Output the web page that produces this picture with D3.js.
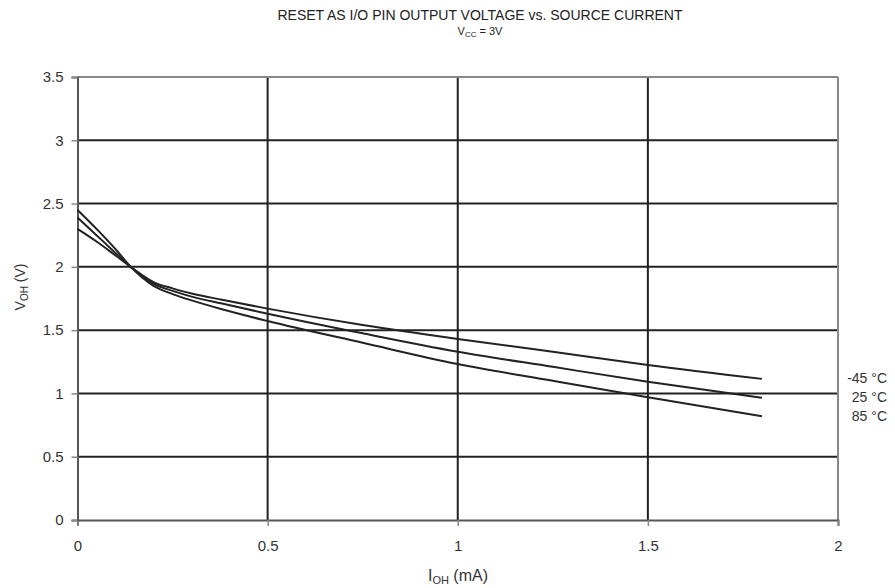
<!DOCTYPE html>
<html>
<head>
<meta charset="utf-8">
<script src="https://cdn.jsdelivr.net/npm/d3@7"></script>
<style>
  body { margin: 0; background: #fff; }
  svg { font-family: 'Liberation Sans', Arial, sans-serif; }
</style>
</head>
<body>
<div id="chart"></div>
<script>
// current (mA) sample points
const current = [0, 0.05, 0.1, 0.14, 0.2, 0.25, 0.3, 0.38, 0.5, 0.75, 1, 1.25, 1.5, 1.8];
const vMinus45 = [2.30, 2.20, 2.09, 2.00, 1.88, 1.83, 1.79, 1.74, 1.67, 1.54, 1.43, 1.33, 1.225, 1.115];
const v25 = [2.39, 2.25, 2.11, 2.00, 1.865, 1.81, 1.765, 1.71, 1.63, 1.475, 1.33, 1.21, 1.092, 0.965];
const v85 = [2.45, 2.30, 2.14, 2.00, 1.85, 1.785, 1.735, 1.665, 1.572, 1.40, 1.232, 1.10, 0.97, 0.82];
const seriesNames = ['-45 °C', '25 °C', '85 °C'];
const xTicks = [0, 0.5, 1, 1.5, 2];
const yTicks = [0, 0.5, 1, 1.5, 2, 2.5, 3, 3.5];

const series = [vMinus45, v25, v85];

const W = 895, H = 588;
const margin = { top: 77, right: 57, bottom: 68, left: 77.5 };
const width = W - margin.left - margin.right;
const height = H - margin.top - margin.bottom;

const svg = d3.select('#chart').append('svg')
    .attr('width', W)
    .attr('height', H);

const x = d3.scaleLinear().domain([0, 2]).range([0, width]);
const y = d3.scaleLinear().domain([0, 3.5]).range([height, 0]);

const g = svg.append('g')
    .attr('transform', 'translate(' + margin.left + ',' + margin.top + ')');

// title
svg.append('text')
    .attr('x', 480).attr('y', 20)
    .attr('text-anchor', 'middle')
    .style('font-size', '14px').style('fill', '#222')
    .text('RESET AS I/O PIN OUTPUT VOLTAGE vs. SOURCE CURRENT');
const sub = svg.append('text')
    .attr('x', 480).attr('y', 35)
    .attr('text-anchor', 'middle')
    .style('font-size', '11px').style('fill', '#222');
sub.append('tspan').text('V');
sub.append('tspan').attr('dy', 2).style('font-size', '8px').text('CC');
sub.append('tspan').attr('dy', -2).text(' = 3V');

// grid
g.append('g').selectAll('line')
    .data(yTicks.filter(d => d > 0 && d < 3.5))
    .enter().append('line')
    .attr('x1', 0).attr('x2', width)
    .attr('y1', d => y(d)).attr('y2', d => y(d))
    .attr('stroke', '#222').attr('stroke-width', 2);
g.append('g').selectAll('line')
    .data(xTicks.filter(d => d > 0 && d < 2))
    .enter().append('line')
    .attr('y1', 0).attr('y2', height)
    .attr('x1', d => x(d)).attr('x2', d => x(d))
    .attr('stroke', '#222').attr('stroke-width', 2);

// border top/right
g.append('line').attr('x1', 0).attr('x2', width).attr('y1', y(3.5)).attr('y2', y(3.5))
    .attr('stroke', '#888').attr('stroke-width', 2);
g.append('line').attr('x1', x(2)).attr('x2', x(2)).attr('y1', 0).attr('y2', height)
    .attr('stroke', '#888').attr('stroke-width', 2);

// axes
const xAxis = g.append('g')
    .attr('transform', 'translate(0,' + height + ')')
    .call(d3.axisBottom(x).tickValues(xTicks).tickFormat(d3.format('')).tickSize(6).tickPadding(14));
const yAxis = g.append('g')
    .call(d3.axisLeft(y).tickValues(yTicks).tickFormat(d3.format('')).tickSize(6).tickPadding(8));
[xAxis, yAxis].forEach(a => {
    a.select('.domain').attr('stroke', '#555').attr('stroke-width', 2);
    a.selectAll('.tick line').attr('stroke', '#888').attr('stroke-width', 1.5);
    a.selectAll('.tick text').style('font-size', '15px').style('fill', '#333')
        .style('font-family', "'Liberation Sans', Arial, sans-serif");
});

// lines
const line = d3.line()
    .x((d, i) => x(current[i]))
    .y(d => y(d))
    .curve(d3.curveMonotoneX);

g.selectAll('.series')
    .data(series)
    .enter().append('path')
    .attr('class', 'series')
    .attr('d', line)
    .attr('fill', 'none')
    .attr('stroke', '#222')
    .attr('stroke-width', 2);

// legend labels
svg.selectAll('.lab')
    .data(seriesNames)
    .enter().append('text')
    .attr('class', 'lab')
    .attr('x', 887)
    .attr('y', (d, i) => 383 + i * 19)
    .attr('text-anchor', 'end')
    .style('font-size', '14px').style('fill', '#333')
    .text(d => d);

// axis titles
const xt = svg.append('text')
    .attr('x', 458).attr('y', 581)
    .attr('text-anchor', 'middle')
    .style('font-size', '16px').style('fill', '#333');
xt.append('tspan').text('I');
xt.append('tspan').attr('dy', 3).style('font-size', '11px').text('OH');
xt.append('tspan').attr('dy', -3).text(' (mA)');

const yt = svg.append('text')
    .attr('transform', 'translate(25,287) rotate(-90)')
    .attr('text-anchor', 'middle')
    .style('font-size', '14px').style('fill', '#333');
yt.append('tspan').text('V');
yt.append('tspan').attr('dy', 3).style('font-size', '10px').text('OH');
yt.append('tspan').attr('dy', -3).text(' (V)');
</script>
</body>
</html>
